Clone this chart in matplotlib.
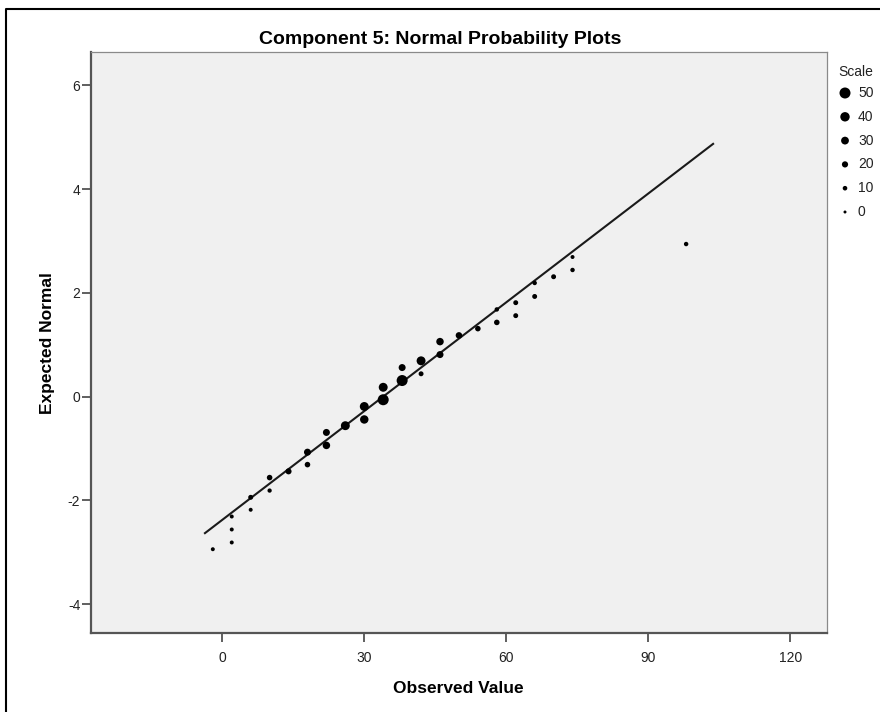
import matplotlib.pyplot as plt
from matplotlib.lines import Line2D

plt.rcParams["font.family"] = ["Liberation Sans", "DejaVu Sans"]
plt.rcParams["axes.unicode_minus"] = False

# observed value, expected normal score and scale (point size) per point
observed = [-2, 2, 2, 2, 6, 6, 10, 10, 14, 18, 18, 22, 22, 26, 30, 30, 34, 34,
            38, 38, 42, 42, 46, 46, 50, 54, 58, 58, 62, 62, 66, 66, 70, 74, 74, 98]
expected = [-2.94, -2.81, -2.56, -2.31, -2.18, -1.94, -1.81, -1.56, -1.44, -1.31,
            -1.07, -0.94, -0.69, -0.56, -0.44, -0.19, -0.06, 0.18, 0.31, 0.56,
            0.44, 0.69, 0.81, 1.06, 1.18, 1.31, 1.43, 1.68, 1.56, 1.81, 1.93,
            2.19, 2.31, 2.44, 2.69, 2.94]
scale = [6, 6, 6, 6, 6, 12, 8, 16, 19, 16, 25, 28, 25, 37, 34, 37, 50, 37,
         50, 25, 12, 37, 25, 28, 22, 16, 16, 9, 12, 12, 12, 9, 12, 9, 6, 9]

# reference line end points
line_x = [-3.66, 103.7]
line_y = [-2.63, 4.87]

legend_values = [50, 40, 30, 20, 10, 0]
x_ticks = [0, 30, 60, 90, 120]
y_ticks = [-4, -2, 0, 2, 4, 6]


def marker_area(v):
    # diameter grows from 3 px (scale 0) to 11 px (scale 50)
    d_px = 3 + 0.16 * v
    return (d_px * 0.72) ** 2


W, H = 880, 712
fig = plt.figure(figsize=(W / 100, H / 100), dpi=100)
fig.patch.set_facecolor("white")

left, right, top, bottom = 90.7, 826.7, 52, 633.3
ax = fig.add_axes([left / W, 1 - bottom / H, (right - left) / W, (bottom - top) / H])
ax.set_facecolor("#f0f0f0")

ax.plot(line_x, line_y, color="#1a1a1a", lw=1.5, zorder=2)
ax.scatter(observed, expected, s=[marker_area(v) for v in scale],
           color="black", edgecolors="none", zorder=3)

ax.set_xlim(-27.8, 127.7)
ax.set_ylim(-4.56, 6.64)
ax.set_xticks(x_ticks)
ax.set_yticks(y_ticks)
ax.tick_params(direction="out", length=6.5, width=1.2, color="#444",
               labelsize=10, labelcolor="#222")
ax.tick_params(axis="x", pad=6)
ax.tick_params(axis="y", pad=1)

for side in ["left", "bottom"]:
    ax.spines[side].set_color("#555")
    ax.spines[side].set_linewidth(1.6)
for side in ["top", "right"]:
    ax.spines[side].set_color("#8a8a8a")
    ax.spines[side].set_linewidth(0.9)

ax.set_xlabel("Observed Value", fontsize=12.5, fontweight="bold", labelpad=12)
ax.set_ylabel("Expected Normal", fontsize=12.5, fontweight="bold", labelpad=9)
fig.text(440 / W, 1 - 40 / H, "Component 5: Normal Probability Plots",
         fontsize=14, fontweight="bold", ha="center", va="center")

# overlay in pixel units for the outer frame and the size legend
ov = fig.add_axes([0, 0, 1, 1], facecolor="none")
ov.set_xlim(0, W)
ov.set_ylim(H, 0)
ov.axis("off")
ov.add_line(Line2D([6, 6, W], [H, 9, 9], color="black", lw=1.5))

ov.text(838, 72, "Scale", fontsize=10, color="#222", va="center", ha="left")
for i, v in enumerate(legend_values):
    yy = 93 + i * 23.8
    ov.scatter([845], [yy], s=marker_area(v), color="black", edgecolors="none")
    ov.text(858, yy, str(v), fontsize=10, color="#222", va="center", ha="left")

fig.savefig("out.png", dpi=100)
